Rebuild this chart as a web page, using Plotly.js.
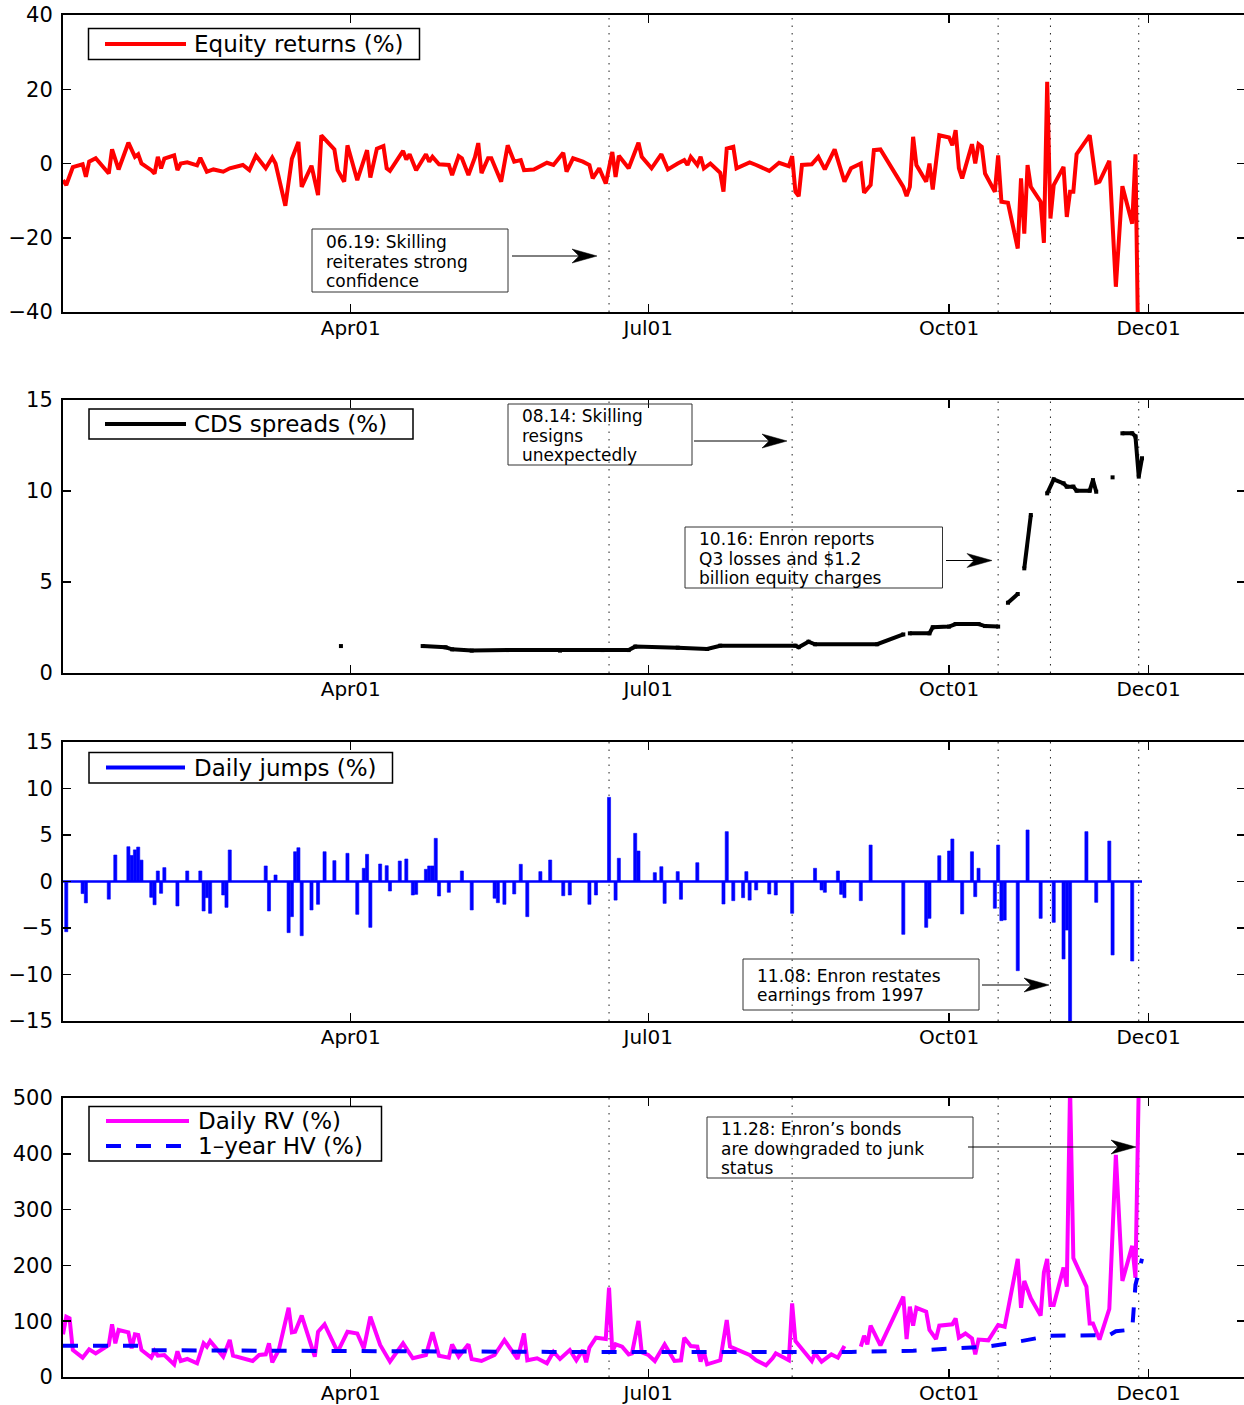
<!DOCTYPE html>
<html><head><meta charset="utf-8">
<script src="https://cdn.plot.ly/plotly-3.0.1.min.js"></script>
<style>html,body{margin:0;padding:0;overflow:hidden;background:#fff}#chart{width:1246px;height:1405px}</style>
</head><body><div id="chart"></div>
<script>
// ---------------- DATA ----------------
const xTickDates = ['2001-04-01','2001-07-01','2001-10-01','2001-12-01'];
const xTickText = ['Apr01','Jul01','Oct01','Dec01'];
const eventLineDates = ['2001-06-19','2001-08-14','2001-10-16','2001-11-01','2001-11-28'];

const eqDates = ['2001-01-03','2001-01-04','2001-01-06','2001-01-09','2001-01-10','2001-01-11','2001-01-13','2001-01-17','2001-01-18','2001-01-20','2001-01-23','2001-01-25','2001-01-26','2001-01-27','2001-01-30','2001-01-31','2001-02-01','2001-02-02','2001-02-03','2001-02-06','2001-02-07','2001-02-08','2001-02-10','2001-02-13','2001-02-14','2001-02-16','2001-02-18','2001-02-21','2001-02-23','2001-02-27','2001-03-01','2001-03-03','2001-03-06','2001-03-08','2001-03-09','2001-03-12','2001-03-14','2001-03-16','2001-03-17','2001-03-20','2001-03-22','2001-03-23','2001-03-27','2001-03-28','2001-03-30','2001-03-31','2001-04-03','2001-04-06','2001-04-07','2001-04-09','2001-04-11','2001-04-12','2001-04-13','2001-04-17','2001-04-18','2001-04-19','2001-04-21','2001-04-24','2001-04-25','2001-04-26','2001-04-28','2001-05-01','2001-05-02','2001-05-04','2001-05-05','2001-05-07','2001-05-09','2001-05-10','2001-05-11','2001-05-13','2001-05-14','2001-05-17','2001-05-19','2001-05-21','2001-05-23','2001-05-24','2001-05-27','2001-05-31','2001-06-02','2001-06-05','2001-06-06','2001-06-08','2001-06-11','2001-06-13','2001-06-14','2001-06-16','2001-06-18','2001-06-20','2001-06-21','2001-06-22','2001-06-25','2001-06-28','2001-06-29','2001-07-02','2001-07-05','2001-07-07','2001-07-10','2001-07-12','2001-07-13','2001-07-14','2001-07-16','2001-07-17','2001-07-18','2001-07-20','2001-07-23','2001-07-24','2001-07-25','2001-07-27','2001-07-28','2001-08-01','2001-08-03','2001-08-07','2001-08-10','2001-08-13','2001-08-14','2001-08-15','2001-08-16','2001-08-17','2001-08-20','2001-08-22','2001-08-24','2001-08-27','2001-08-30','2001-09-01','2001-09-04','2001-09-05','2001-09-07','2001-09-08','2001-09-10','2001-09-17','2001-09-18','2001-09-19','2001-09-20','2001-09-21','2001-09-24','2001-09-25','2001-09-26','2001-09-28','2001-10-01','2001-10-02','2001-10-03','2001-10-04','2001-10-05','2001-10-08','2001-10-09','2001-10-10','2001-10-11','2001-10-12','2001-10-15','2001-10-16','2001-10-17','2001-10-19','2001-10-22','2001-10-23','2001-10-24','2001-10-25','2001-10-26','2001-10-29','2001-10-30','2001-10-31','2001-11-01','2001-11-02','2001-11-05','2001-11-06','2001-11-07','2001-11-08','2001-11-09','2001-11-13','2001-11-15','2001-11-16','2001-11-19','2001-11-21','2001-11-23','2001-11-26','2001-11-27','2001-11-28'];
const eqReturns = [-4.5,-5.8,-1.0,-0.2,-3.6,0.5,1.4,-2.7,3.8,-1.6,5.6,1.8,2.5,0,-1.8,-2.7,1.8,-1.3,1.3,2.2,-1.8,0,0.3,-0.5,1.5,-2.2,-1.6,-2.2,-1.3,-0.4,-1.8,2.1,-1.3,1.6,0,-11.4,1.3,5.8,-6.3,-0.6,-8.5,7.6,3.8,-1.8,-4.9,4.9,-4.5,3.6,-3.8,4.0,4.7,-1.3,-2.0,3.4,1.1,2.5,-1.8,2.5,0.5,1.8,-0.2,-0.4,-3.1,2.0,1.4,-3.1,1.7,5.5,-2.6,1.4,1.4,-4.9,4.9,0.5,0.9,-1.8,-1.6,0.2,-0.4,2.9,-2.2,1.4,0.5,-0.4,-4.0,-1.3,-5.4,3.1,-3.6,2.1,-1.3,5.6,1.8,-1.3,2.5,-1.6,0,0.9,-0.4,1.8,-0.4,1.8,-1.3,0,-2.5,-7.6,4.0,4.5,-1.3,0.3,-0.4,-2.0,0.2,-0.7,2.0,-7.6,-8.8,-0.4,-0.2,1.8,-1.6,3.8,-4.9,-1.3,0,-7.9,-5.8,3.6,3.8,-6.3,-8.8,-6.3,7.2,-0.4,-4.9,0,-7.0,7.6,7.0,4.9,9.0,-1.3,-4.0,5.2,0,5.2,4.5,-2.7,-7.6,2.2,-10.3,-10.6,-22.9,-4.0,-18.9,-0.4,-6.3,-10.3,-21.4,22.0,-14.8,-5.8,-0.9,-14.4,-7.6,-7.6,2.5,7.6,-5.2,-4.9,0.7,-33.2,-6.1,-16.2,2.5,-60];

const cdsDates = ['2001-03-29','2001-04-10','2001-04-23','2001-04-30','2001-05-02','2001-05-08','2001-05-19','2001-06-04','2001-06-17','2001-06-25','2001-06-27','2001-07-10','2001-07-19','2001-07-23','2001-08-15','2001-08-16','2001-08-19','2001-08-21','2001-09-09','2001-09-17','2001-09-18','2001-09-19','2001-09-25','2001-09-26','2001-10-01','2001-10-03','2001-10-10','2001-10-12','2001-10-16','2001-10-17','2001-10-19','2001-10-22','2001-10-23','2001-10-24','2001-10-26','2001-10-28','2001-10-31','2001-11-02','2001-11-05','2001-11-06','2001-11-08','2001-11-09','2001-11-13','2001-11-14','2001-11-15','2001-11-17','2001-11-20','2001-11-21','2001-11-23','2001-11-26','2001-11-27','2001-11-28','2001-11-29'];
const cdsSpreads = [1.48,null,1.48,1.41,1.30,1.23,1.26,1.23,1.26,1.26,1.45,1.39,1.32,1.50,1.50,1.42,1.72,1.58,1.58,2.12,null,2.18,2.18,2.51,2.55,2.69,2.69,2.58,2.55,null,3.86,4.34,null,5.75,8.68,null,9.87,10.64,10.42,10.24,10.24,10.02,10.02,10.6,9.96,null,10.75,null,13.17,13.17,13.0,10.79,11.8];

const jumpDates = ['2001-01-04','2001-01-09','2001-01-10','2001-01-17','2001-01-19','2001-01-23','2001-01-24','2001-01-25','2001-01-26','2001-01-27','2001-01-30','2001-01-31','2001-02-01','2001-02-02','2001-02-03','2001-02-07','2001-02-10','2001-02-14','2001-02-15','2001-02-16','2001-02-17','2001-02-21','2001-02-22','2001-02-23','2001-03-06','2001-03-07','2001-03-09','2001-03-13','2001-03-14','2001-03-15','2001-03-16','2001-03-17','2001-03-20','2001-03-22','2001-03-24','2001-03-27','2001-03-31','2001-04-03','2001-04-05','2001-04-06','2001-04-07','2001-04-10','2001-04-12','2001-04-13','2001-04-16','2001-04-18','2001-04-20','2001-04-21','2001-04-24','2001-04-25','2001-04-26','2001-04-27','2001-04-28','2001-05-01','2001-05-05','2001-05-08','2001-05-15','2001-05-16','2001-05-18','2001-05-21','2001-05-23','2001-05-25','2001-05-29','2001-06-01','2001-06-05','2001-06-07','2001-06-13','2001-06-15','2001-06-19','2001-06-21','2001-06-22','2001-06-27','2001-06-28','2001-07-03','2001-07-05','2001-07-06','2001-07-10','2001-07-11','2001-07-16','2001-07-24','2001-07-25','2001-07-27','2001-07-30','2001-07-31','2001-08-01','2001-08-03','2001-08-07','2001-08-09','2001-08-14','2001-08-21','2001-08-23','2001-08-24','2001-08-28','2001-08-29','2001-08-30','2001-08-31','2001-09-04','2001-09-07','2001-09-17','2001-09-24','2001-09-25','2001-09-28','2001-10-01','2001-10-02','2001-10-05','2001-10-08','2001-10-09','2001-10-10','2001-10-15','2001-10-16','2001-10-17','2001-10-18','2001-10-22','2001-10-25','2001-10-29','2001-11-02','2001-11-05','2001-11-06','2001-11-07','2001-11-12','2001-11-15','2001-11-19','2001-11-20','2001-11-26'];
const jumpValues = [-5.4,-1.3,-2.3,-1.9,2.85,3.74,2.8,3.4,3.7,2.3,-1.7,-2.5,1.13,-1.27,1.49,-2.63,1.13,1.13,-3.17,-1.74,-3.42,-1.45,-2.78,3.39,1.67,-3.17,0.7,-5.5,-3.78,3.2,3.63,-5.83,-3.06,-2.45,3.2,2.24,3.03,-3.53,1.42,2.92,-4.93,1.88,1.7,-1.02,2.2,2.42,-1.45,-1.38,1.31,1.67,1.67,4.64,-1.56,-1.16,1.13,-3.06,-1.8,-2.28,-2.45,-1.34,1.85,-3.78,1.06,2.31,-1.53,-1.45,-2.45,-1.45,9.05,-2.0,2.5,5.18,3.28,0.95,1.59,-2.35,1.06,-1.91,2.02,-2.42,5.36,-2.06,-1.74,1.06,-2.0,-0.91,-1.34,-1.45,-3.42,1.42,-0.91,-1.16,1.13,-1.38,-1.74,0.1,-2.06,3.92,-5.68,-4.93,-3.96,2.77,3.28,4.57,-3.49,3.2,-1.63,1.42,-2.88,3.92,-4.21,-4.14,-9.59,5.54,-3.96,-4.39,-8.33,-5.22,-16,5.36,-2.24,4.35,-7.9,-8.55];
const jumpBaseDates = ['2001-01-03','2001-11-29'];
const jumpBaseValues = [0,0];

const rvDates = ['2001-01-03','2001-01-04','2001-01-05','2001-01-06','2001-01-09','2001-01-11','2001-01-13','2001-01-17','2001-01-18','2001-01-19','2001-01-20','2001-01-23','2001-01-24','2001-01-25','2001-01-26','2001-01-27','2001-01-30','2001-01-31','2001-02-01','2001-02-03','2001-02-06','2001-02-07','2001-02-08','2001-02-10','2001-02-13','2001-02-15','2001-02-16','2001-02-17','2001-02-21','2001-02-23','2001-02-24','2001-03-02','2001-03-04','2001-03-06','2001-03-07','2001-03-08','2001-03-10','2001-03-13','2001-03-14','2001-03-15','2001-03-17','2001-03-21','2001-03-22','2001-03-24','2001-03-28','2001-03-31','2001-04-03','2001-04-05','2001-04-07','2001-04-10','2001-04-13','2001-04-17','2001-04-18','2001-04-20','2001-04-24','2001-04-26','2001-04-28','2001-05-01','2001-05-02','2001-05-04','2001-05-07','2001-05-08','2001-05-11','2001-05-15','2001-05-18','2001-05-22','2001-05-24','2001-05-25','2001-05-28','2001-05-31','2001-06-02','2001-06-04','2001-06-07','2001-06-09','2001-06-11','2001-06-12','2001-06-13','2001-06-15','2001-06-18','2001-06-19','2001-06-20','2001-06-21','2001-06-23','2001-06-25','2001-06-26','2001-06-28','2001-06-29','2001-07-01','2001-07-03','2001-07-06','2001-07-09','2001-07-11','2001-07-12','2001-07-14','2001-07-16','2001-07-17','2001-07-18','2001-07-19','2001-07-23','2001-07-25','2001-07-26','2001-07-30','2001-08-01','2001-08-03','2001-08-06','2001-08-08','2001-08-09','2001-08-13','2001-08-14','2001-08-15','2001-08-20','2001-08-21','2001-08-23','2001-08-26','2001-08-28','2001-08-30','2001-09-02','2001-09-04','2001-09-05','2001-09-06','2001-09-07','2001-09-10','2001-09-17','2001-09-18','2001-09-19','2001-09-20','2001-09-21','2001-09-24','2001-09-25','2001-09-27','2001-09-28','2001-10-02','2001-10-03','2001-10-04','2001-10-06','2001-10-08','2001-10-09','2001-10-10','2001-10-13','2001-10-16','2001-10-18','2001-10-22','2001-10-23','2001-10-24','2001-10-26','2001-10-29','2001-10-30','2001-10-31','2001-11-01','2001-11-02','2001-11-05','2001-11-06','2001-11-07','2001-11-08','2001-11-12','2001-11-13','2001-11-14','2001-11-16','2001-11-19','2001-11-21','2001-11-23','2001-11-26','2001-11-27','2001-11-28'];
const rvValues = [76.5,108,105,48.4,34.6,49.6,42.4,57.3,94.4,60.4,84.2,80,51.4,76.5,75.3,48.4,34.6,46.6,38.2,39.4,22.7,46,28.7,32.3,24.5,60.4,54.4,64.5,36.4,66.3,38.2,28.7,39.4,40.6,60.4,26.3,48.4,124,80,81,110,36.4,81,94.4,45.2,81,78,51.4,108,57.3,27.5,60.4,51.4,33.5,39.4,80,38.2,34.6,58.5,36.4,58.5,32.3,28.7,39.4,66.3,32.3,78,29.9,33.5,24.5,45.2,32.3,48.4,29.9,48.4,26.3,52.6,70.5,68.1,160,45.2,58.5,54.4,40.6,42.4,100.4,44,39.4,28.7,58.5,28.7,29.9,70.5,55.6,54.4,27.5,45.2,22.7,29.9,102,54.4,45.2,39.4,29.9,21,33.5,42.4,29.9,132,64.5,28.7,42.4,27.5,40.6,34.6,55.6,null,54.4,74,58.5,92,56.8,144,68.1,126,92,124,117,84.2,68.1,92,94.4,105,70.5,78,69.3,40.6,67,65.7,93.2,90.2,211.5,124,172,141,110,187.6,211.5,129,129,196,162,520,213,162,96,96,67,122,398,172,235,178,520];

const hvDates = ['2001-01-03','2001-01-27','2001-01-29','2001-02-28','2001-03-10','2001-06-01','2001-09-01','2001-09-20','2001-10-02','2001-10-12','2001-10-19','2001-10-30','2001-11-01','2001-11-19','2001-11-21','2001-11-26','2001-11-27','2001-11-29'];
const hvValues = [56,56,48,47,46,45,45,47,51,54,60,72,74,75,82,85,165,212];

// ---------------- LAYOUT HELPERS ----------------
const F = 'DejaVu Sans';
const PX = p => (p - 63) / 1182;
const PY = p => (1377 - p) / 1362;
const xRange = ['2001-01-03', '2001-12-30 12:00'];

function mkX(anchor) {
  return {type:'date', range:xRange, anchor:anchor, tickvals:xTickDates, ticktext:xTickText,
    ticks:'inside', ticklen:8, tickwidth:1.5, tickcolor:'#000', showline:true, linewidth:2, linecolor:'#000',
    mirror:'ticks', showgrid:false, zeroline:false, ticklabelstandoff:-3,
    tickfont:{family:F, size:20, color:'#000'}, fixedrange:true};
}
function mkY(anchor, domain, range, tickvals) {
  return {anchor:anchor, domain:domain, range:range, tickvals:tickvals,
    ticks:'inside', ticklen:8, tickwidth:1.5, tickcolor:'#000', showline:true, linewidth:2, linecolor:'#000',
    mirror:'ticks', showgrid:false, zeroline:false, ticklabelstandoff:4,
    tickfont:{family:F, size:21, color:'#000'}, fixedrange:true};
}

const traces = [
  {x:eqDates, y:eqReturns, xaxis:'x', yaxis:'y', type:'scatter', mode:'lines', line:{color:'#ff0000', width:4}, showlegend:false},
  {x:cdsDates, y:cdsSpreads, xaxis:'x2', yaxis:'y2', type:'scatter', mode:'lines+markers', line:{color:'#000', width:4}, marker:{color:'#000', size:4, symbol:'square'}, showlegend:false},
  {x:jumpBaseDates, y:jumpBaseValues, xaxis:'x3', yaxis:'y3', type:'scatter', mode:'lines', line:{color:'#0000ff', width:2.5}, showlegend:false},
  {x:jumpDates, y:jumpValues, xaxis:'x3', yaxis:'y3', type:'bar', width:86400000*0.95, marker:{color:'#0000ff', line:{color:'#0000ff', width:0.6}}, showlegend:false},
  {x:rvDates, y:rvValues, xaxis:'x4', yaxis:'y4', type:'scatter', mode:'lines', line:{color:'#ff00ff', width:4}, showlegend:false},
  {x:hvDates, y:hvValues, xaxis:'x4', yaxis:'y4', type:'scatter', mode:'lines', line:{color:'#0000ff', width:4, dash:'15px,15px'}, showlegend:false}
];

const shapes = [];
const annotations = [];
// event dotted lines
['', '2', '3', '4'].forEach(s => {
  eventLineDates.forEach(d => {
    shapes.push({type:'line', layer:'below', xref:'x'+s, yref:'y'+s+' domain', x0:d, x1:d, y0:0, y1:1,
      line:{color:'#222', width:1, dash:'1.5px,6px'}});
  });
});
// legends
function legendBox(x0, x1, y0, y1) {
  shapes.push({type:'rect', xref:'paper', yref:'paper', x0:PX(x0), x1:PX(x1), y0:PY(y1), y1:PY(y0),
    line:{color:'#000', width:1.5}, fillcolor:'#fff'});
}
function legendItem(lx0, lx1, ly, color, dash, text, tx) {
  shapes.push({type:'line', xref:'paper', yref:'paper', x0:PX(lx0), x1:PX(lx1), y0:PY(ly), y1:PY(ly),
    line:{color:color, width:4, dash:dash}});
  annotations.push({xref:'paper', yref:'paper', x:PX(tx), y:PY(ly), xanchor:'left', yanchor:'middle',
    text:text, showarrow:false, font:{family:F, size:23, color:'#000'}, borderpad:0});
}
legendBox(88.5, 419.5, 28.5, 59.5);
legendItem(105, 186, 44, '#ff0000', 'solid', 'Equity returns (%)', 193);
legendBox(89, 413, 409, 439);
legendItem(105, 186, 424, '#000', 'solid', 'CDS spreads (%)', 193);
legendBox(89, 392.5, 752.5, 783);
legendItem(106, 185, 767.5, '#0000ff', 'solid', 'Daily jumps (%)', 193);
legendBox(89, 381.5, 1106.5, 1161);
legendItem(106, 189, 1121, '#ff00ff', 'solid', 'Daily RV (%)', 197);
legendItem(106, 189, 1146, '#0000ff', '15px,15px', '1–year HV (%)', 197);

// event annotation boxes
function noteBox(x0, x1, y0, y1, lines, tx) {
  shapes.push({type:'rect', xref:'paper', yref:'paper', x0:PX(x0), x1:PX(x1), y0:PY(y1), y1:PY(y0),
    line:{color:'#333', width:1}});
  const step = 19.9, mid = (y0 + y1) / 2 + 1, n = lines.length;
  lines.forEach((t, i) => annotations.push({xref:'paper', yref:'paper', x:PX(tx), y:PY(mid + (i - (n - 1) / 2) * step),
    xanchor:'left', yanchor:'middle', text:t, showarrow:false, font:{family:F, size:17, color:'#000'}, borderpad:0}));
}
function arrow(tail, tip, y) {
  shapes.push({type:'line', xref:'paper', yref:'paper', x0:PX(tail), x1:PX(tip - 12), y0:PY(y), y1:PY(y),
    line:{color:'#000', width:1}});
  shapes.push({type:'path', xref:'paper', yref:'paper', xsizemode:'pixel', ysizemode:'pixel',
    xanchor:PX(tip), yanchor:PY(y), path:'M0,0 L-25,7 L-18,0 L-25,-7 Z', fillcolor:'#000', line:{color:'#000', width:0.5}});
}
noteBox(312, 508, 229, 292, ['06.19: Skilling', 'reiterates strong', 'confidence'], 325);
arrow(512, 597, 256);
noteBox(508, 692, 404, 465, ['08.14: Skilling', 'resigns', 'unexpectedly'], 521);
arrow(694, 787, 441);
noteBox(685, 942.5, 527, 588, ['10.16: Enron reports', 'Q3 losses and $1.2', 'billion equity charges'], 698);
arrow(946, 992, 560.5);
noteBox(743, 979, 959, 1010, ['11.08: Enron restates', 'earnings from 1997'], 756);
arrow(982, 1049, 985);
noteBox(707, 973, 1117, 1178, ['11.28: Enron’s bonds', 'are downgraded to junk', 'status'], 720);
arrow(968, 1136, 1147);

const layout = {
  width:1246, height:1405, margin:{l:63, r:1, t:15, b:28}, paper_bgcolor:'#fff', plot_bgcolor:'#fff',
  showlegend:false, font:{family:F, color:'#000'},
  xaxis:mkX('y'), yaxis:mkY('x', [PY(312), 1], [-40, 40], [-40,-20,0,20,40]),
  xaxis2:mkX('y2'), yaxis2:mkY('x2', [PY(673), PY(400)], [0, 15], [0,5,10,15]),
  xaxis3:mkX('y3'), yaxis3:mkY('x3', [PY(1021), PY(742)], [-15, 15], [-15,-10,-5,0,5,10,15]),
  xaxis4:mkX('y4'), yaxis4:mkY('x4', [0, PY(1098)], [0, 500], [0,100,200,300,400,500]),
  shapes:shapes, annotations:annotations, bargap:0
};
Plotly.newPlot('chart', traces, layout, {displayModeBar:false, staticPlot:true});
</script></body></html>
